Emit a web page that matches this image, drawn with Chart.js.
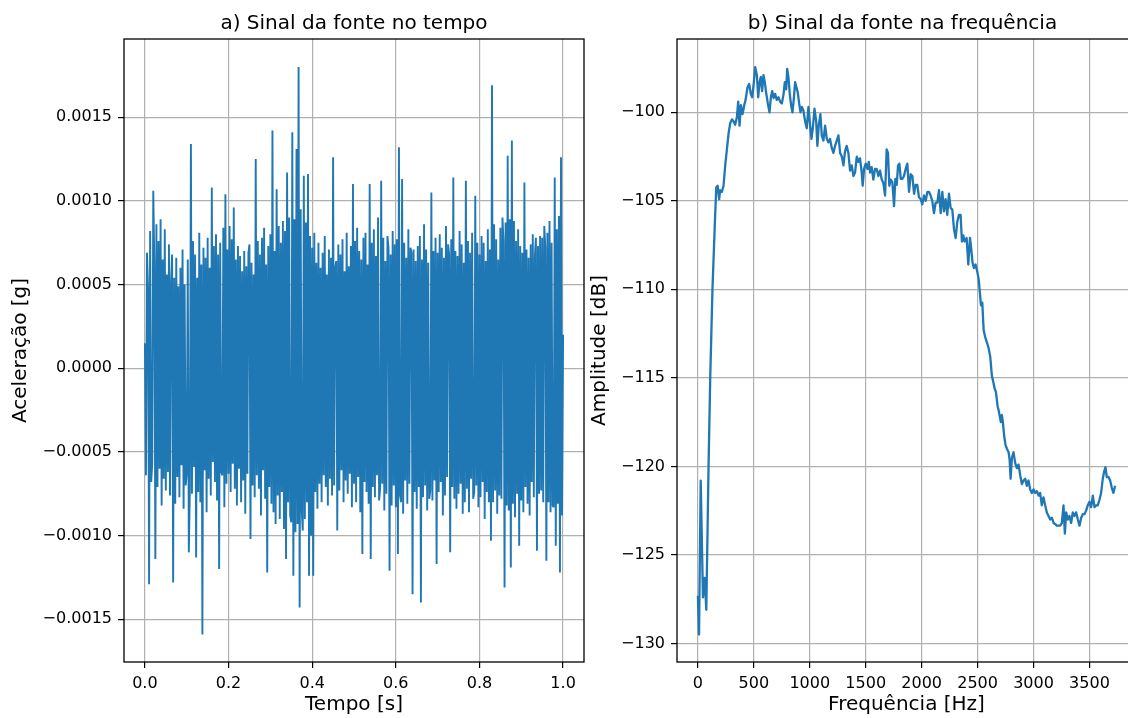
<!DOCTYPE html>
<html>
<head>
<meta charset="utf-8">
<script src="https://cdn.jsdelivr.net/npm/chart.js@4.4.1/dist/chart.umd.min.js"></script>
<style>
html,body{margin:0;padding:0;background:#fff;width:1128px;height:718px;overflow:hidden;}
canvas{position:absolute;top:0;}
#cA{left:0;}
#cB{left:585px;}
</style>
</head>
<body>
<canvas id="cA" width="585" height="718" style="width:585px;height:718px"></canvas>
<canvas id="cB" width="555" height="718" style="width:555px;height:718px"></canvas>
<script>
// ---- a) time signal: acceleration [g], 401 samples over 0..1 s (read/estimated from the picture)
const tFirst = 0.0, tLast = 1.0;
const accel = [
1.5e-4,-6.4e-4,6.9e-4,4.8e-4,-12.9e-4,8.2e-4,-6.8e-4,-5.7e-4,10.6e-4,6.2e-4,-11.4e-4,8.6e-4,-7.1e-4,7.6e-4,-6.0e-4,8.9e-4,-8.2e-4,6.5e-4,-6.6e-4,8.3e-4,
-7.3e-4,5.6e-4,-6.2e-4,7.4e-4,-7.6e-4,5.2e-4,6.8e-4,-12.8e-4,5.4e-4,-8.1e-4,6.6e-4,-6.5e-4,4.9e-4,-7.7e-4,6.0e-4,-5.8e-4,7.1e-4,-8.4e-4,5.0e-4,-7.0e-4,
-6.3e-4,6.5e-4,-11.0e-4,-7.2e-4,13.4e-4,-7.5e-4,7.6e-4,-5.9e-4,6.8e-4,-11.3e-4,5.4e-4,-7.4e-4,8.1e-4,-8.0e-4,6.2e-4,-15.9e-4,7.2e-4,-6.1e-4,6.6e-4,-8.6e-4,
7.8e-4,-6.6e-4,6.0e-4,-7.6e-4,10.8e-4,-5.6e-4,7.3e-4,-6.8e-4,8.0e-4,-7.9e-4,6.8e-4,-12.0e-4,7.5e-4,-6.2e-4,-6.4e-4,8.4e-4,-8.3e-4,10.4e-4,-6.9e-4,7.1e-4,
-6.3e-4,8.5e-4,-7.4e-4,7.7e-4,-5.7e-4,9.6e-4,-7.2e-4,6.5e-4,-8.2e-4,7.3e-4,-6.0e-4,6.7e-4,-8.0e-4,5.8e-4,-6.7e-4,7.0e-4,-8.7e-4,6.1e-4,-6.3e-4,6.9e-4,
7.4e-4,-10.2e-4,6.3e-4,-7.0e-4,5.6e-4,-7.7e-4,12.5e-4,-6.4e-4,7.6e-4,-7.2e-4,6.8e-4,-8.8e-4,7.8e-4,-6.1e-4,8.4e-4,-7.8e-4,6.2e-4,-12.2e-4,7.3e-4,-7.1e-4,
8.0e-4,-8.1e-4,14.2e-4,-8.6e-4,7.0e-4,-9.3e-4,10.7e-4,-7.6e-4,8.5e-4,-9.0e-4,7.5e-4,-7.4e-4,8.8e-4,-9.6e-4,8.2e-4,-11.4e-4,11.7e-4,-8.0e-4,9.0e-4,-8.8e-4,
-9.2e-4,14.1e-4,-12.4e-4,8.9e-4,-9.8e-4,13.1e-4,-9.3e-4,18.0e-4,-14.3e-4,9.5e-4,-8.5e-4,-9.7e-4,11.5e-4,-9.0e-4,8.7e-4,-8.0e-4,11.6e-4,-12.4e-4,7.9e-4,-10.0e-4,
7.2e-4,-12.4e-4,8.1e-4,-7.4e-4,6.3e-4,-8.4e-4,7.5e-4,-6.9e-4,6.0e-4,-8.0e-4,6.9e-4,-6.4e-4,7.9e-4,-7.1e-4,5.6e-4,-8.2e-4,7.1e-4,-6.6e-4,6.6e-4,-7.6e-4,
12.6e-4,-7.0e-4,6.0e-4,6.4e-4,-9.7e-4,7.4e-4,-7.3e-4,6.8e-4,-6.1e-4,7.7e-4,-8.0e-4,5.8e-4,-6.7e-4,8.1e-4,-7.5e-4,6.1e-4,-6.3e-4,7.3e-4,-8.3e-4,11.0e-4,
-6.9e-4,7.6e-4,-8.0e-4,8.4e-4,-6.5e-4,7.0e-4,-8.6e-4,6.5e-4,-11.1e-4,7.8e-4,-6.8e-4,8.1e-4,-7.4e-4,6.2e-4,-8.1e-4,11.0e-4,-11.4e-4,7.5e-4,-7.1e-4,8.3e-4,
-7.7e-4,6.7e-4,-6.4e-4,9.0e-4,-7.9e-4,-7.2e-4,11.2e-4,-6.9e-4,7.8e-4,-8.5e-4,6.4e-4,-7.5e-4,7.9e-4,7.2e-4,-12.1e-4,6.8e-4,-8.2e-4,8.2e-4,-7.0e-4,7.4e-4,
-8.3e-4,7.7e-4,-11.1e-4,13.2e-4,-7.6e-4,-8.0e-4,11.3e-4,-8.7e-4,7.5e-4,-6.7e-4,6.6e-4,-8.1e-4,8.3e-4,-6.9e-4,7.2e-4,6.9e-4,-13.5e-4,7.1e-4,-7.4e-4,6.4e-4,
-8.4e-4,7.3e-4,-7.1e-4,7.9e-4,-14.0e-4,6.5e-4,-7.7e-4,8.6e-4,-7.0e-4,7.1e-4,-8.5e-4,6.3e-4,-7.8e-4,-7.3e-4,10.5e-4,-7.9e-4,7.0e-4,-6.7e-4,7.8e-4,-11.7e-4,
6.9e-4,-7.4e-4,8.0e-4,-6.8e-4,7.2e-4,-8.8e-4,6.6e-4,-7.6e-4,8.5e-4,-6.5e-4,7.4e-4,6.8e-4,-11.0e-4,7.7e-4,-7.1e-4,11.4e-4,-7.8e-4,7.0e-4,-8.4e-4,6.7e-4,
-7.5e-4,8.2e-4,-6.9e-4,7.4e-4,-8.7e-4,6.3e-4,-8.0e-4,11.2e-4,-7.2e-4,7.6e-4,-8.6e-4,6.9e-4,-6.6e-4,8.1e-4,-7.8e-4,-7.4e-4,10.3e-4,-7.0e-4,7.5e-4,-8.3e-4,
6.8e-4,-7.7e-4,7.9e-4,-6.8e-4,7.5e-4,-9.0e-4,6.4e-4,-7.4e-4,8.3e-4,-8.0e-4,7.1e-4,-10.3e-4,16.9e-4,-8.0e-4,8.6e-4,-7.3e-4,7.7e-4,-8.7e-4,6.5e-4,-7.6e-4,
8.4e-4,-7.8e-4,9.0e-4,7.6e-4,-13.1e-4,8.7e-4,-8.2e-4,12.7e-4,-8.5e-4,8.9e-4,-11.9e-4,13.6e-4,-8.1e-4,8.8e-4,-8.9e-4,7.6e-4,-7.5e-4,8.3e-4,-10.6e-4,7.3e-4,
-7.9e-4,6.9e-4,-8.6e-4,11.1e-4,-7.1e-4,7.1e-4,-8.1e-4,6.6e-4,-8.8e-4,7.4e-4,-6.8e-4,8.0e-4,-7.7e-4,6.7e-4,7.8e-4,-10.9e-4,7.3e-4,-7.5e-4,7.9e-4,-7.3e-4,
7.8e-4,-8.0e-4,8.5e-4,7.2e-4,-11.5e-4,8.1e-4,-8.0e-4,8.8e-4,-8.6e-4,7.5e-4,-8.2e-4,-8.3e-4,11.4e-4,-10.6e-4,8.3e-4,-8.1e-4,9.1e-4,-12.2e-4,12.6e-4,-8.8e-4,
2.0e-4
];

// ---- b) spectrum
const freqHz = [0,10,25,45,60,75,95,110,130,150,164,176,190,199,214,229,244,259,274,289,304,318,333,348,360,372,384,399,414,426,443,458,473,485,497,512,527,539,551,562,574,586,598,610,625,640,652,664,676,690,705,720,735,750,765,777,789,798,809,821,833,845,857,869,881,893,905,917,929,943,958,973,988,1003,1015,1027,1042,1057,1068,1080,1095,1107,1122,1137,1152,1167,1181,1196,1211,1226,1241,1256,1271,1286,1301,1315,1330,1345,1360,1375,1390,1405,1420,1434,1449,1464,1473,1485,1500,1515,1527,1539,1553,1568,1583,1598,1613,1628,1643,1658,1673,1687,1699,1711,1723,1738,1753,1765,1777,1789,1801,1813,1827,1842,1857,1872,1887,1902,1917,1932,1946,1961,1976,1991,2006,2021,2036,2051,2066,2080,2095,2110,2125,2140,2155,2170,2185,2199,2214,2229,2244,2259,2274,2289,2304,2318,2333,2348,2360,2372,2384,2402,2417,2432,2443,2455,2467,2482,2497,2509,2518,2530,2542,2554,2568,2583,2598,2613,2628,2643,2652,2664,2679,2687,2696,2708,2717,2726,2738,2750,2762,2777,2786,2795,2807,2821,2836,2851,2866,2881,2896,2911,2926,2940,2955,2970,2985,3000,3015,3030,3045,3059,3074,3089,3104,3119,3134,3149,3164,3179,3193,3208,3223,3238,3253,3268,3280,3292,3307,3321,3336,3351,3366,3381,3396,3411,3426,3440,3455,3470,3485,3500,3515,3530,3545,3560,3574,3589,3604,3619,3631,3643,3655,3670,3685,3699,3714,3729];
const ampDb = [-127.3,-129.5,-120.8,-127.4,-126.3,-128.1,-120.0,-115.0,-110.0,-106.5,-104.25,-104.15,-104.9,-104.4,-104.5,-104.15,-103.0,-102.1,-101.2,-100.6,-100.4,-100.5,-100.7,-100.3,-99.4,-100.75,-99.6,-100.1,-99.6,-99.3,-98.6,-98.4,-98.96,-99.15,-98.5,-97.45,-97.9,-99.15,-98.3,-98.0,-98.8,-97.9,-98.3,-98.9,-99.5,-100.0,-99.15,-98.8,-99.2,-98.96,-99.3,-99.15,-99.4,-99.5,-99.0,-98.3,-98.7,-97.55,-98.0,-98.96,-99.6,-100.0,-99.25,-98.3,-98.6,-98.9,-99.5,-100.0,-99.7,-99.9,-100.5,-100.9,-99.7,-100.75,-101.5,-100.9,-99.8,-100.5,-101.9,-100.75,-100.1,-101.3,-101.6,-100.75,-101.5,-101.7,-101.5,-102.0,-102.3,-101.9,-101.6,-101.3,-102.3,-102.5,-103.0,-102.2,-101.9,-102.3,-103.3,-103.0,-103.6,-103.4,-102.5,-102.8,-102.6,-103.4,-104.15,-103.2,-102.9,-103.2,-102.8,-103.4,-103.1,-103.8,-103.2,-103.2,-103.6,-103.3,-103.8,-104.0,-104.7,-102.1,-102.3,-104.15,-103.8,-103.95,-105.3,-103.76,-104.1,-103.0,-102.9,-103.76,-103.76,-103.6,-103.2,-102.9,-104.5,-103.5,-103.6,-104.6,-104.1,-104.1,-104.8,-104.9,-105.2,-104.7,-105.0,-104.5,-104.5,-104.7,-105.0,-105.7,-105.1,-105.1,-104.4,-105.7,-104.5,-105.6,-104.9,-105.8,-104.6,-105.4,-105.5,-106.6,-107.1,-106.2,-105.8,-105.8,-107.3,-106.95,-107.3,-107.1,-108.6,-107.1,-107.7,-108.5,-108.8,-108.6,-109.0,-109.4,-110.0,-110.9,-110.75,-112.3,-112.7,-113.0,-113.3,-113.8,-114.9,-115.3,-115.6,-115.8,-116.6,-116.8,-117.1,-117.5,-117.1,-117.5,-118.3,-118.8,-119.0,-119.2,-119.6,-120.7,-119.5,-119.2,-119.8,-120.1,-119.9,-120.5,-121.0,-120.8,-120.7,-121.1,-120.8,-121.3,-121.5,-121.3,-121.5,-121.4,-121.65,-121.5,-122.2,-121.75,-122.2,-122.6,-122.8,-123.0,-122.9,-123.2,-123.25,-123.35,-123.35,-123.35,-123.2,-122.2,-123.8,-122.6,-123.0,-122.8,-123.2,-122.6,-122.8,-122.6,-123.0,-123.35,-122.9,-122.7,-122.7,-122.5,-122.2,-122.0,-122.3,-121.65,-122.3,-122.2,-122.2,-121.9,-121.5,-120.7,-120.3,-120.05,-120.6,-120.6,-120.8,-121.2,-121.5,-121.1];

// ---- ticks
const timeTicks = [0, 0.2, 0.4, 0.6, 0.8, 1.0];
const timeTickLabels = ['0.0','0.2','0.4','0.6','0.8','1.0'];
const accelTicks = [-0.0015, -0.0010, -0.0005, 0, 0.0005, 0.0010, 0.0015];
const accelTickLabels = ['\u22120.0015','\u22120.0010','\u22120.0005','0.0000','0.0005','0.0010','0.0015'];
const freqTicks = [0,500,1000,1500,2000,2500,3000,3500];
const freqTickLabels = ['0','500','1000','1500','2000','2500','3000','3500'];
const ampTicks = [-130,-125,-120,-115,-110,-105,-100];
const ampTickLabels = ['\u2212130','\u2212125','\u2212120','\u2212115','\u2212110','\u2212105','\u2212100'];

Chart.defaults.font.family = '"DejaVu Sans", sans-serif';
Chart.defaults.color = '#000';

const boxPlugin = {
  id: 'box',
  afterDraw(chart, args, o) {
    const {ctx, chartArea: {left, top, right, bottom}} = chart;
    ctx.save();
    ctx.strokeStyle = '#000';
    ctx.lineWidth = 1.3;
    ctx.strokeRect(left, top, right - left, bottom - top);
    ctx.font = '20px "DejaVu Sans"';
    ctx.fillStyle = '#000';
    ctx.textAlign = 'center';
    ctx.textBaseline = 'alphabetic';
    ctx.fillText(o.text, (left + right) / 2 + (o.dx || 0), top - 10);
    ctx.restore();
  }
};

function axis(min, max, ticks, labels, title, titlePad, isX, size) {
  return {
    type: 'linear', min, max,
    afterBuildTicks: s => { s.ticks = ticks.map(v => ({value: v})); },
    afterFit: s => { if (isX) s.height = size; else s.width = size; },
    ticks: { callback: (v, i) => labels[i], font: {size: 16}, color: '#000', padding: 6, autoSkip: false, maxRotation: 0, minRotation: 0 },
    grid: { color: '#b0b0b0', lineWidth: 1.2, tickColor: '#000', tickLength: 6, tickWidth: 1.2, drawTicks: true },
    border: { display: false },
    title: { display: true, text: title, font: {size: 20}, color: '#000', padding: titlePad }
  };
}

const timePts = accel.map((a, i) => ({x: tFirst + i * (tLast - tFirst) / (accel.length - 1), y: a}));
new Chart(document.getElementById('cA'), {
  type: 'line',
  data: { datasets: [{ data: timePts, borderColor: '#1f77b4', borderWidth: 1.9, borderJoinStyle: 'bevel', pointRadius: 0, tension: 0, fill: false }] },
  options: {
    responsive: false, animation: false, devicePixelRatio: 1,
    layout: { padding: {left: 0, right: 1, top: 39, bottom: 0} },
    plugins: { legend: {display: false}, tooltip: {enabled: false}, box: {text: 'a) Sinal da fonte no tempo'} },
    scales: {
      x: axis(-0.05, 1.05, timeTicks, timeTickLabels, 'Tempo [s]', {top: 0, bottom: 1}, true, 56),
      y: axis(-0.001755, 0.001967, accelTicks, accelTickLabels, 'Aceleração [g]', {top: 9, bottom: 0}, false, 124)
    }
  },
  plugins: [boxPlugin]
});

const specPts = freqHz.map((f, i) => ({x: f, y: ampDb[i]}));
new Chart(document.getElementById('cB'), {
  type: 'line',
  data: { datasets: [{ data: specPts, borderColor: '#1f77b4', borderWidth: 2.3, borderJoinStyle: 'round', pointRadius: 0, tension: 0, fill: false }] },
  options: {
    responsive: false, animation: false, devicePixelRatio: 1,
    layout: { padding: {left: 0, right: 4, top: 39, bottom: 0} },
    plugins: { legend: {display: false}, tooltip: {enabled: false}, box: {text: 'b) Sinal da fonte na frequência', dx: -4} },
    scales: {
      x: axis(-187, 3916, freqTicks, freqTickLabels, 'Frequência [Hz]', {top: 0, bottom: 1}, true, 56),
      y: axis(-131.05, -95.86, ampTicks, ampTickLabels, 'Amplitude [dB]', {top: 3, bottom: 0}, false, 92)
    }
  },
  plugins: [boxPlugin]
});
</script>
</body>
</html>
